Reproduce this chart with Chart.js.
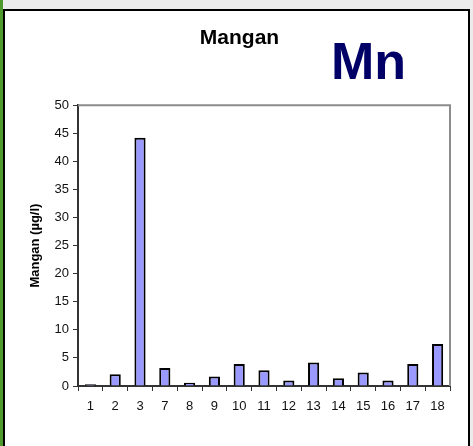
<!DOCTYPE html>
<html>
<head>
<meta charset="utf-8">
<script src="https://cdn.jsdelivr.net/npm/chart.js@4"></script>
<style>
  html, body { margin: 0; padding: 0; background: #fff; }
  #wrap { width: 473px; height: 446px; }
</style>
</head>
<body>
<div id="wrap"><canvas id="c" width="473" height="446"></canvas></div>
<script>
const categories = ['1', '2', '3', '7', '8', '9', '10', '11', '12', '13', '14', '15', '16', '17', '18'];
const manganValues = [0.3, 2.1, 44.2, 3.2, 0.6, 1.7, 3.9, 2.8, 1.0, 4.2, 1.4, 2.4, 1.0, 3.9, 7.5];
const yTicks = [0, 5, 10, 15, 20, 25, 30, 35, 40, 45, 50];

// page frame: grey strip, green edge, black border
const framePlugin = {
  id: 'frame',
  beforeDraw(chart) {
    const ctx = chart.ctx;
    ctx.save();
    ctx.fillStyle = '#ececec';
    ctx.fillRect(0, 0, 473, 446);
    ctx.fillStyle = '#ffffff';
    ctx.fillRect(3, 9, 467, 437);
    ctx.strokeStyle = '#000';
    ctx.lineWidth = 2;
    ctx.beginPath();
    ctx.moveTo(4, 446);
    ctx.lineTo(4, 10);
    ctx.lineTo(469, 10);
    ctx.lineTo(469, 446);
    ctx.stroke();
    ctx.fillStyle = '#4f9a2c';
    ctx.fillRect(0, 0, 3, 446);
    ctx.restore();
  },
  afterDatasetsDraw(chart) {
    // grey top/right edge of the plot area
    const a = chart.chartArea;
    const ctx = chart.ctx;
    ctx.save();
    ctx.strokeStyle = '#8c8c8c';
    ctx.lineWidth = 2;
    ctx.beginPath();
    ctx.moveTo(a.left, a.top);
    ctx.lineTo(a.right, a.top);
    ctx.lineTo(a.right, a.bottom);
    ctx.stroke();
    ctx.restore();
  },
  afterDraw(chart) {
    const ctx = chart.ctx;
    ctx.save();
    ctx.fillStyle = '#000066';
    ctx.font = 'bold 52px "Liberation Sans", Arial, sans-serif';
    ctx.textBaseline = 'alphabetic';
    ctx.textAlign = 'left';
    ctx.fillText('Mn', 331, 79);
    ctx.restore();
  }
};

new Chart(document.getElementById('c'), {
  type: 'bar',
  data: {
    labels: categories,
    datasets: [{
      label: 'Mangan',
      data: manganValues,
      backgroundColor: '#9999ff',
      borderColor: '#000',
      borderWidth: 2,
      barPercentage: 0.45,
      categoryPercentage: 1
    }]
  },
  options: {
    responsive: false,
    animation: false,
    layout: { padding: { top: 10, left: 29, right: 23, bottom: 20 } },
    plugins: {
      legend: { display: false },
      tooltip: { enabled: false },
      title: {
        display: true,
        text: 'Mangan',
        color: '#000',
        font: { family: '"Liberation Sans", Arial, sans-serif', size: 21, weight: 'bold', lineHeight: 1.2 },
        padding: { top: 16, bottom: 54 }
      }
    },
    scales: {
      x: {
        grid: { drawOnChartArea: false, drawTicks: true, tickLength: 5, color: '#333', lineWidth: 1 },
        border: { color: '#333', width: 2 },
        ticks: { color: '#111', padding: 8, maxRotation: 0, autoSkip: false,
                 font: { family: '"Liberation Sans", Arial, sans-serif', size: 13 } },
        afterFit(scale) { scale.height = 40; }
      },
      y: {
        min: 0,
        max: 50,
        afterBuildTicks(scale) { scale.ticks = yTicks.map(v => ({ value: v })); },
        grid: { drawOnChartArea: false, drawTicks: true, tickLength: 5, color: '#333', lineWidth: 1 },
        border: { color: '#333', width: 2 },
        ticks: { color: '#111', padding: 4,
                 font: { family: '"Liberation Sans", Arial, sans-serif', size: 13 } },
        title: {
          display: true,
          text: 'Mangan (µg/l)',
          color: '#000',
          padding: 0,
          font: { family: '"Liberation Sans", Arial, sans-serif', size: 13, weight: 'bold', lineHeight: 1 }
        },
        afterFit(scale) { scale.width = 49; }
      }
    }
  },
  plugins: [framePlugin]
});
</script>
</body>
</html>
